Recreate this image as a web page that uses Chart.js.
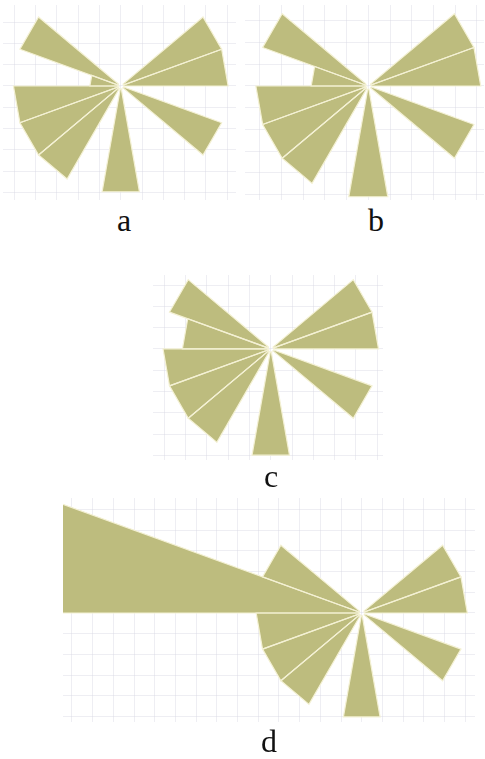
<!DOCTYPE html>
<html>
<head>
<meta charset="utf-8">
<script src="https://cdn.jsdelivr.net/npm/chart.js@4.4.1/dist/chart.umd.min.js"></script>
<style>
    body { margin: 0; background: #fff; width: 485px; height: 759px; position: relative; overflow: hidden; }
    canvas { position: absolute; }
    .label {
        position: absolute;
        font-family: "Liberation Serif", "Times New Roman", serif;
        font-size: 32px;
        line-height: 1;
        color: #111;
        transform: translateX(-50%);
    }
</style>
</head>
<body>
<canvas id="roseA" width="233" height="195" style="left:3px;top:5px"></canvas>
<canvas id="roseB" width="239" height="195" style="left:245px;top:5px"></canvas>
<canvas id="roseC" width="230" height="185" style="left:153px;top:275px"></canvas>
<canvas id="roseD" width="412" height="224" style="left:63px;top:498px"></canvas>
<div class="label" style="left:124px;top:204px">a</div>
<div class="label" style="left:376px;top:204px">b</div>
<div class="label" style="left:271px;top:460px">c</div>
<div class="label" style="left:269px;top:725px">d</div>

<script>
// Sector start directions (degrees, counter-clockwise from east), 20 degrees each
const sectorAngles = [0, 20, 40, 60, 80, 100, 120, 140, 160, 180, 200, 220, 240, 260, 280, 300, 320, 340];
const sectorWidth = 20;

// Sector lengths for each panel (grid units)
const roseA = [5.04, 5.04, 0, 0, 0, 0, 0, 5.04, 1.45, 5.04, 5.04, 5.04, 0, 5.04, 0, 0, 5.04, 0];
const roseB = [5.18, 5.18, 0, 0, 0, 0, 0, 5.18, 2.63, 5.18, 5.18, 5.18, 0, 5.18, 0, 0, 5.18, 0];
const roseC = [5.06, 5.06, 0, 0, 0, 0, 0, 5.06, 4.15, 5.06, 5.06, 5.06, 0, 5.06, 0, 0, 5.06, 0];
const roseD = [5.1, 5.1, 0, 0, 0, 0, 0, 5.1, 16, 5.1, 5.1, 5.1, 0, 5.1, 0, 0, 5.1, 0];

const petalColor = 'rgb(189, 188, 126)';
const seamColor = 'rgb(244, 241, 212)';
const gridColor = 'rgba(214, 214, 226, 0.42)';
const hub = 0.14;

function polar(deg, r) {
    const t = deg * Math.PI / 180;
    return { x: r * Math.cos(t), y: r * Math.sin(t) };
}

// One closed polygon per non-empty sector
function sectorDatasets(values) {
    const sets = [];
    values.forEach(function (v, i) {
        if (!v) return;
        const a1 = sectorAngles[i];
        const a2 = a1 + sectorWidth;
        sets.push({
            data: [polar(a1, hub), polar(a1, v), polar(a2, v), polar(a2, hub), polar(a1, hub)],
            showLine: true,
            fill: 'shape',
            backgroundColor: petalColor,
            borderColor: seamColor,
            borderWidth: 1.2,
            pointRadius: 0,
            pointHoverRadius: 0,
            tension: 0
        });
    });
    return sets;
}

function gridAxis(min, max) {
    return {
        type: 'linear',
        min: min,
        max: max,
        ticks: { display: false, stepSize: 1, includeBounds: false },
        grid: { color: gridColor, lineWidth: 1, drawTicks: false, tickLength: 0 },
        border: { display: false }
    };
}

function drawRose(id, values, xMin, xMax, yMin, yMax) {
    new Chart(document.getElementById(id), {
        type: 'scatter',
        data: { datasets: sectorDatasets(values) },
        options: {
            responsive: false,
            animation: false,
            events: [],
            layout: { padding: 0 },
            plugins: {
                legend: { display: false },
                tooltip: { enabled: false },
                filler: { drawTime: 'beforeDatasetsDraw' }
            },
            scales: {
                x: gridAxis(xMin, xMax),
                y: gridAxis(yMin, yMax)
            }
        }
    });
}

drawRose('roseA', roseA, -5.53, 5.41, -5.35, 3.80);
drawRose('roseB', roseB, -5.68, 5.33, -5.25, 3.73);
drawRose('roseC', roseC, -5.53, 5.27, -5.21, 3.47);
drawRose('roseD', roseD, -14.43, 5.47, -5.27, 5.56);
</script>
</body>
</html>
